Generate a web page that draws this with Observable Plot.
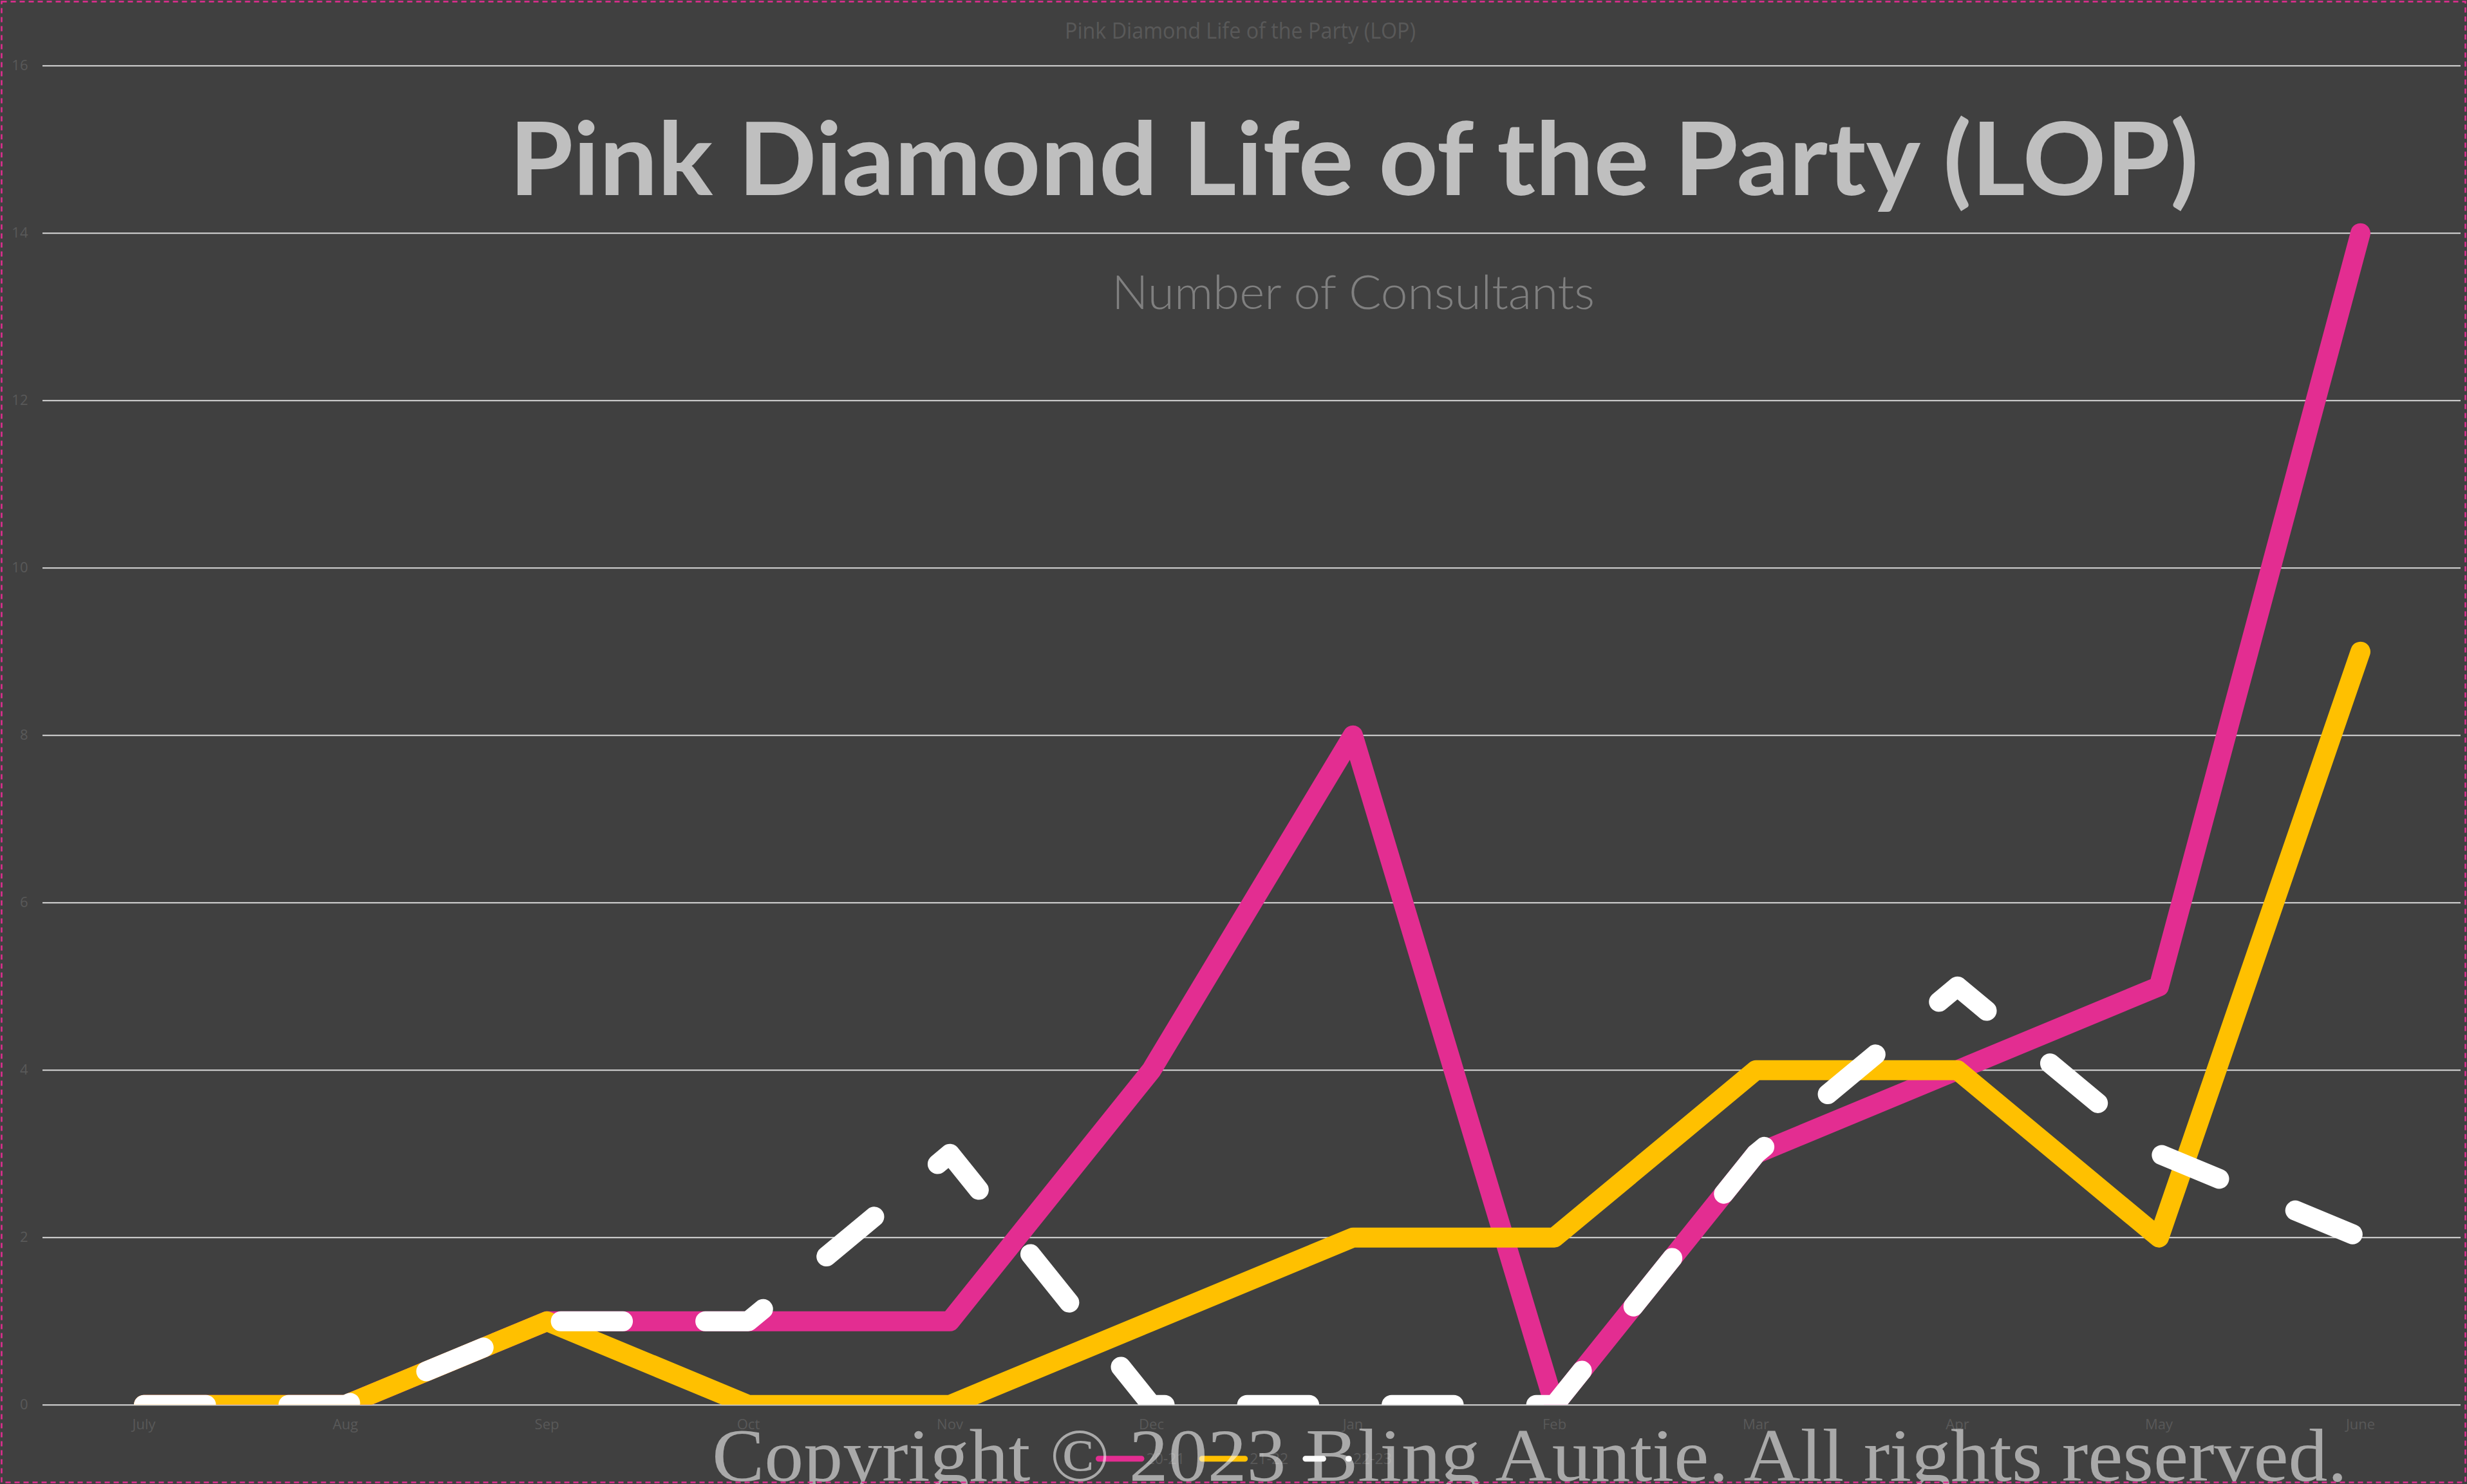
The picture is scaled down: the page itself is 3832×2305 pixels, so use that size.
<!DOCTYPE html>
<html>
<head>
<meta charset="utf-8">
<script src="https://cdn.jsdelivr.net/npm/d3@7"></script>
<script src="https://cdn.jsdelivr.net/npm/@observablehq/plot@0.6"></script>
<style>
  html, body { margin: 0; padding: 0; background: #404040; }
  #wrap { position: relative; width: 3832px; height: 2305px; background: #404040; overflow: hidden; }
  #wrap > svg { position: absolute; left: 0; top: 0; }
</style>
</head>
<body>
<div id="wrap"></div>
<script>
// ---- data ----
const months = ["July", "Aug", "Sep", "Oct", "Nov", "Dec", "Jan", "Feb", "Mar", "Apr", "May", "June"];
const series2021 = [0, 0, 1, 1, 1, 4, 8, 0, 3, 4, 5, 14];
const series2122 = [0, 0, 1, 0, 0, 1, 2, 2, 4, 4, 2, 9];
const series2223 = [0, 0, 1, 1, 3, 0, 0, 0, 3, 5, 3, 2];
const seriesNames = ["20-21", "21-22", "22-23"];
const seriesColors = ["#E32D91", "#FFC000", "#FFFFFF"];
const yTicks = [0, 2, 4, 6, 8, 10, 12, 14, 16];
const smallTitle = "Pink Diamond Life of the Party (LOP)";
const chartTitle = "Pink Diamond Life of the Party (LOP)";
const chartSubtitle = "Number of Consultants";
const copyrightText = "Copyright © 2023 Bling Auntie. All rights reserved.";

// ---- build table ----
const seriesValues = [series2021, series2122, series2223];
const rows = [];
seriesValues.forEach((vals, i) => vals.forEach((v, j) => rows.push({ series: seriesNames[i], month: months[j], value: v })));

const W = 3832, H = 2305;
const LINE_W = 31;

const chart = Plot.plot({
  width: W,
  height: H,
  marginTop: 101.7,
  marginBottom: 123.3,
  marginLeft: 66,
  marginRight: 10,
  style: { background: "transparent", color: "#595959", fontFamily: "'Open Sans', sans-serif", fontSize: "22px" },
  x: { type: "point", domain: months, padding: 0.5, label: null },
  y: { domain: [0, 16], label: null },
  marks: [
    Plot.ruleY(yTicks, { stroke: "#d9d9d9", strokeWidth: 2 }),
    Plot.axisY({ ticks: yTicks, tickFormat: d => String(d), tickSize: 0, tickPadding: 23, label: null, fontSize: 22 }),
    Plot.axisX({ tickSize: 0, tickPadding: 22, label: null, fontSize: 22 }),
    ...seriesNames.map((name, i) => Plot.line(rows.filter(d => d.series === name), {
      x: "month",
      y: "value",
      stroke: seriesColors[i],
      strokeWidth: LINE_W,
      strokeLinecap: "round",
      strokeLinejoin: "round",
      strokeDasharray: i === 2 ? "96.5,128" : null,
      clip: "frame"
    }))
  ]
});
document.getElementById("wrap").appendChild(chart);

// ---- overlay: titles, legend, caption, border ----
const ov = d3.select("#wrap").append("svg")
  .attr("width", W).attr("height", H)
  .style("pointer-events", "none");

ov.append("text")
  .attr("x", 1654).attr("y", 60)
  .attr("textLength", 545).attr("lengthAdjust", "spacingAndGlyphs")
  .style("font-family", "'Open Sans', sans-serif").style("font-size", "35px")
  .attr("fill", "#595959")
  .text(smallTitle);

ov.append("text")
  .attr("x", 791).attr("y", 303)
  .attr("textLength", 2624).attr("lengthAdjust", "spacingAndGlyphs")
  .style("font-family", "Lato, sans-serif").style("font-weight", "700").style("font-size", "158px")
  .attr("fill", "#bfbfbf")
  .text(chartTitle);

ov.append("text")
  .attr("x", 1727).attr("y", 480)
  .attr("textLength", 750).attr("lengthAdjust", "spacingAndGlyphs")
  .style("font-family", "Lato, sans-serif").style("font-weight", "300").style("font-size", "72px")
  .attr("fill", "#808080")
  .text(chartSubtitle);

// legend
const legX0 = 1706.5, legStep = 160.7, legY = 2265.7, swLen = 66.5;
seriesNames.forEach((name, i) => {
  const x = legX0 + i * legStep;
  ov.append("line")
    .attr("x1", x).attr("x2", x + swLen + (i === 2 ? 1 : 0))
    .attr("y1", legY).attr("y2", legY)
    .attr("stroke", seriesColors[i]).attr("stroke-width", 9)
    .attr("stroke-linecap", "round")
    .attr("stroke-dasharray", i === 2 ? "27.5,39" : null);
  ov.append("text")
    .attr("x", x + 74).attr("y", legY)
    .attr("dy", "0.35em")
    .style("font-family", "'Open Sans', sans-serif").style("font-size", "23px")
    .attr("fill", "#595959")
    .text(name);
});

// caption
ov.append("text")
  .attr("x", 1106).attr("y", 2300)
  .attr("textLength", 2540).attr("lengthAdjust", "spacingAndGlyphs")
  .style("font-family", "'Liberation Serif', serif").style("font-size", "116px")
  .attr("fill", "#ffffff").attr("fill-opacity", 0.55)
  .text(copyrightText);

// dashed pink border
ov.append("rect")
  .attr("x", 2.5).attr("y", 2.5).attr("width", W - 5).attr("height", H - 5)
  .attr("fill", "none").attr("stroke", "#E32D91").attr("stroke-width", 2.5)
  .attr("stroke-dasharray", "8,6");
</script>
</body>
</html>
